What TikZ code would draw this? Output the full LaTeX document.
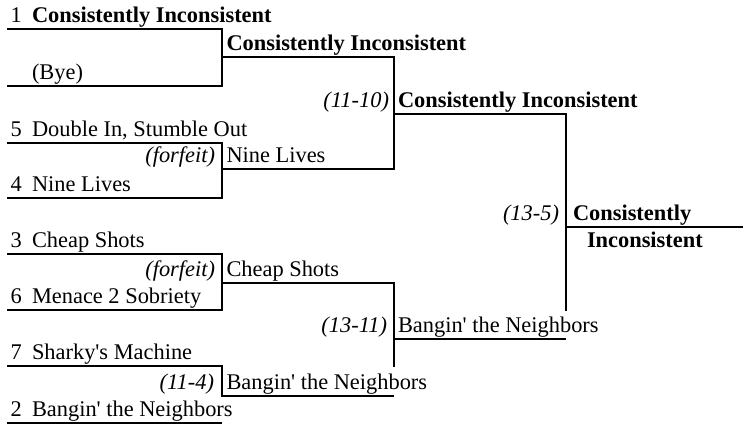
\documentclass[tikz,border=0pt]{standalone}
\usepackage{fontspec}
\setmainfont{Liberation Serif}
\begin{document}
\begin{tikzpicture}[x=1pt,y=-1pt,
  bk/.style={line width=2pt, line join=miter},
  txt/.style={inner sep=0pt, outer sep=0pt, font=\fontsize{22.4}{26}\selectfont},
  seed/.style={txt, anchor=base west},
  team/.style={txt, anchor=base west},
  win/.style={txt, anchor=base west, font=\fontsize{22.4}{26}\selectfont\bfseries},
  score/.style={txt, anchor=base east, font=\fontsize{22.4}{26}\selectfont\itshape}]
\useasboundingbox (0,0) rectangle (743,425);

% ---------- coordinates of bracket lines ----------
% round 1
\coordinate (a1) at (7,29);   \coordinate (b1) at (222,29);
\coordinate (a2) at (7,86);   \coordinate (b2) at (222,86);
\coordinate (a3) at (7,143);  \coordinate (b3) at (222,143);
\coordinate (a4) at (7,198);  \coordinate (b4) at (222,198);
\coordinate (a5) at (7,254);  \coordinate (b5) at (222,254);
\coordinate (a6) at (7,310);  \coordinate (b6) at (222,310);
\coordinate (a7) at (7,366);  \coordinate (b7) at (222,366);
\coordinate (a8) at (7,423);  \coordinate (b8) at (222,423);
% round 2
\coordinate (c1) at (222,57);  \coordinate (d1) at (394,57);
\coordinate (c2) at (222,169); \coordinate (d2) at (394,169);
\coordinate (c3) at (222,283); \coordinate (d3) at (394,283);
\coordinate (c4) at (222,396); \coordinate (d4) at (394,396);
\coordinate (d3e) at (394,367);
% round 3
\coordinate (e1) at (394,114); \coordinate (f1) at (566,114);
\coordinate (e2) at (394,339); \coordinate (f2) at (566,339);
\coordinate (f1e) at (566,311);
% final
\coordinate (g1) at (566,227); \coordinate (h1) at (743,227);

% ---------- lines ----------
\draw[bk] (a1) -- (b1) -- (b2) -- (a2);
\draw[bk] (a3) -- (b3) -- (b4) -- (a4);
\draw[bk] (a5) -- (b5) -- (b6) -- (a6);
\draw[bk] (a7) -- (b7) -- (c4) -- (d4);
\draw[bk] (a8) -- (b8);
\draw[bk] (c1) -- (d1) -- (d2) -- (c2);
\draw[bk] (c3) -- (d3) -- (d3e);
\draw[bk] (e1) -- (f1) -- (f1e);
\draw[bk] (e2) -- (f2);
\draw[bk] (g1) -- (h1);

% ---------- round 1 texts ----------
\node[seed] (s1) at (10.5,22.5) {1};
\node[win]  (t1) at (32,22.5) {Consistently Inconsistent};
\node[team] (t2) at (32,79.5) {(Bye)};
\node[seed] (s5) at (10.5,136.5) {5};
\node[team] (t5) at (32,136.5) {Double In, Stumble Out};
\node[seed] (s4) at (10.5,191.5) {4};
\node[team] (t4) at (32,191.5) {Nine Lives};
\node[seed] (s3) at (10.5,247.5) {3};
\node[team] (t3) at (32,247.5) {Cheap Shots};
\node[seed] (s6) at (10.5,303.5) {6};
\node[team] (t6) at (32,303.5) {Menace 2 Sobriety};
\node[seed] (s7) at (10.5,359.5) {7};
\node[team] (t7) at (32,359.5) {Sharky\textquotesingle s Machine};
\node[seed] (s2) at (10.5,416.5) {2};
\node[team] (t8) at (32,416.5) {Bangin\textquotesingle\ the Neighbors};

% ---------- round 2 texts ----------
\node[win]   (r21) at (226.5,50.5) {Consistently Inconsistent};
\node[score] (p22) at (215,162.5) {(forfeit)};
\node[team]  (r22) at (226.5,162.5) {Nine Lives};
\node[score] (p23) at (215,276.5) {(forfeit)};
\node[team]  (r23) at (226.5,276.5) {Cheap Shots};
\node[score] (p24) at (214,389.5) {(11-4)};
\node[team]  (r24) at (226.5,389.5) {Bangin\textquotesingle\ the Neighbors};

% ---------- round 3 texts ----------
\node[score] (p31) at (389,107.5) {(11-10)};
\node[win]   (r31) at (398,107.5) {Consistently Inconsistent};
\node[score] (p32) at (387,332.5) {(13-11)};
\node[team]  (r32) at (398,332.5) {Bangin\textquotesingle\ the Neighbors};

% ---------- final ----------
\node[score] (p41) at (559,220.5) {(13-5)};
\node[win]   (r41) at (573,220.5) {Consistently};
\node[win]   (r42) at (587,247.5) {Inconsistent};
\end{tikzpicture}
\end{document}
